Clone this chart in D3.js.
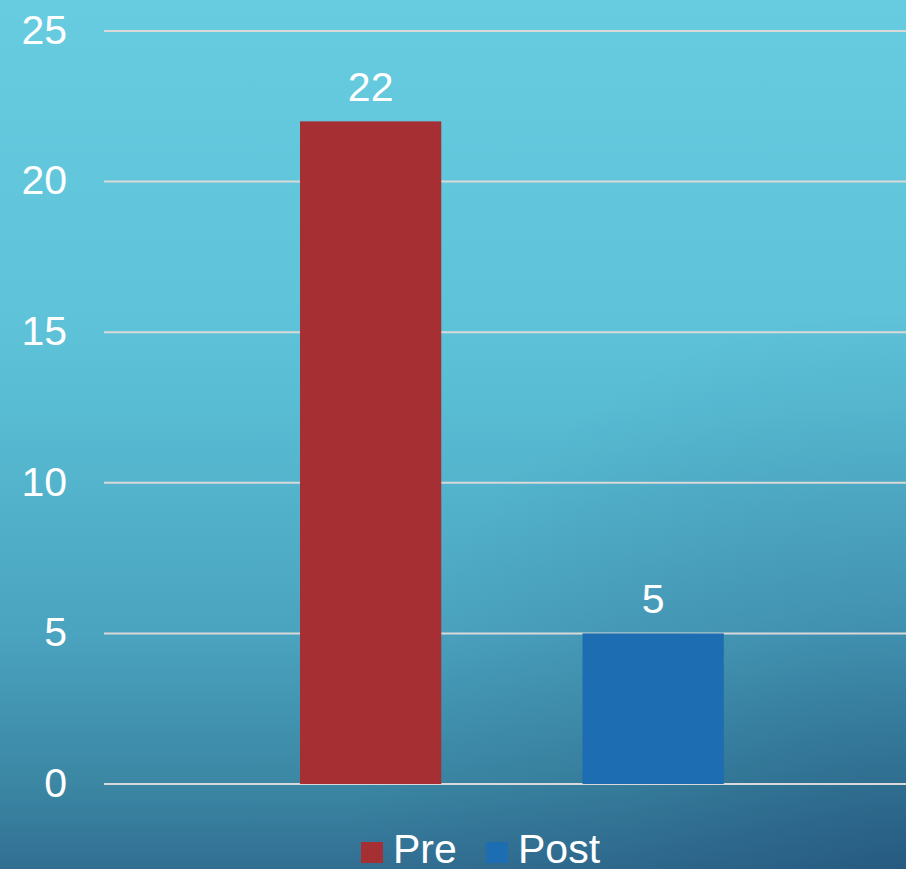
<!DOCTYPE html>
<html><head><meta charset="utf-8">
<script src="https://cdn.jsdelivr.net/npm/d3@7"></script>
<style>html,body{margin:0;padding:0;overflow:hidden}svg{display:block}</style>
</head><body>
<script>
const categories = ["Pre", "Post"];
const values = [22, 5];
const barColors = ["#a52f33", "#1c6db1"];
const yTicks = [0, 5, 10, 15, 20, 25];

const W = 906, H = 869;
const svg = d3.select("body").append("svg").attr("width", W).attr("height", H);
const defs = svg.append("defs");
const grad = defs.append("linearGradient").attr("id", "bg")
  .attr("gradientUnits", "userSpaceOnUse")
  .attr("x1", 0).attr("y1", 0).attr("x2", 0).attr("y2", H);
[[0, "#67cce0"], [0.35, "#5fc3d9"], [0.47, "#58bcd3"], [0.73, "#4aa3bf"], [0.9, "#3b87a4"], [1, "#326f92"]]
  .forEach(([o, c]) => grad.append("stop").attr("offset", o).attr("stop-color", c));
const shade = defs.append("radialGradient").attr("id", "shade")
  .attr("gradientUnits", "userSpaceOnUse")
  .attr("cx", W).attr("cy", H).attr("r", 560);
[[0, "#163a66", 0.4], [0.5, "#163a66", 0.15], [1, "#163a66", 0]]
  .forEach(([o, c, op]) => shade.append("stop").attr("offset", o).attr("stop-color", c).attr("stop-opacity", op));
svg.append("rect").attr("width", W).attr("height", H).attr("fill", "url(#bg)");
svg.append("rect").attr("width", W).attr("height", H).attr("fill", "url(#shade)");

const font = "'Liberation Sans', Arial, sans-serif";
const y = d3.scaleLinear().domain([0, 25]).range([784, 31]);
const x = d3.scaleBand().domain(categories).range([229.4, 794.4]).paddingInner(0.5).paddingOuter(0.25);

// gridlines
svg.append("g").selectAll("line").data(yTicks).join("line")
  .attr("x1", 104).attr("x2", W)
  .attr("y1", d => y(d)).attr("y2", d => y(d))
  .attr("stroke", "#d9d9d9").attr("stroke-width", 2);

// y axis labels
const yAxis = d3.axisLeft(y).tickValues(yTicks).tickSize(0).tickPadding(0);
const ag = svg.append("g").attr("transform", "translate(67,0)").call(yAxis);
ag.select(".domain").remove();
ag.selectAll("text").attr("fill", "#ffffff").attr("font-family", font)
  .attr("font-size", 41).attr("dy", "0.3em");

// bars
svg.append("g").selectAll("rect").data(categories).join("rect")
  .attr("x", d => x(d)).attr("width", x.bandwidth())
  .attr("y", (d, i) => y(values[i])).attr("height", (d, i) => y(0) - y(values[i]))
  .attr("fill", (d, i) => barColors[i]);

// value labels
svg.append("g").selectAll("text").data(categories).join("text")
  .attr("x", d => x(d) + x.bandwidth() / 2)
  .attr("y", (d, i) => y(values[i]) - 20)
  .attr("text-anchor", "middle").attr("fill", "#ffffff")
  .attr("font-family", font).attr("font-size", 41)
  .text((d, i) => values[i]);

// legend
const legend = [{x: 361, tx: 393}, {x: 486, tx: 518}];
const lg = svg.append("g");
categories.forEach((c, i) => {
  lg.append("rect").attr("x", legend[i].x).attr("y", 842).attr("width", 22).attr("height", 21).attr("fill", barColors[i]);
  lg.append("text").attr("x", legend[i].tx).attr("y", 863).attr("fill", "#ffffff")
    .attr("font-family", font).attr("font-size", 41).text(c);
});
</script>
</body></html>
